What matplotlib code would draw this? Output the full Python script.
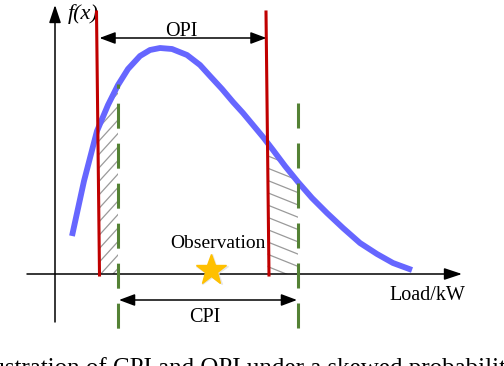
import matplotlib
matplotlib.use("Agg")
import matplotlib.pyplot as plt
import numpy as np

plt.rcParams['font.family'] = ['Liberation Serif', 'DejaVu Serif']
plt.rcParams['lines.scale_dashes'] = False

# skewed density curve (load, density)
curve_x = [17, 29, 42, 53, 63, 73, 85, 95, 105, 117, 132, 145, 155, 167,
           178, 188, 198, 208, 218, 230, 243, 257, 272, 288, 305, 322, 338, 357]
curve_y = [38, 93, 143, 169, 189, 205, 218, 224, 226, 225, 219, 209, 198, 185,
           172, 161, 149, 137, 124, 108, 92, 76, 61, 46, 31, 20, 11, 4]

# interval bounds
opi = [43, 212.5]
cpi = [63, 243]
observation = 156

fig = plt.figure(figsize=(5.04, 3.66), dpi=100)
ax = fig.add_axes([0, 0, 1, 1])
ax.set_xlim(-55, 449)
ax.set_ylim(-92, 274)
ax.axis('off')

# axes with arrows
ax.annotate('', xy=(407, 0), xytext=(-28, 0),
            arrowprops=dict(arrowstyle='-|>,head_length=0.9,head_width=0.3',
                            mutation_scale=12, lw=1.1, color='black',
                            shrinkA=0, shrinkB=0))
ax.annotate('', xy=(0, 269), xytext=(0, -48),
            arrowprops=dict(arrowstyle='-|>,head_length=0.9,head_width=0.3',
                            mutation_scale=12, lw=1.1, color='black',
                            shrinkA=0, shrinkB=0))

cx = np.array(curve_x, dtype=float)
cy = np.array(curve_y, dtype=float)


def hatch_region(x0, x1, slope, step):
    xs = np.linspace(x0, x1, 50)
    top = np.interp(xs, cx, cy)
    poly = ax.fill_between(xs, 0, top, facecolor='none', edgecolor='none')
    lx = np.array([x0 - 5, x1 + 5])
    for c in np.arange(-300, 400, step):
        ln, = ax.plot(lx, slope * (lx - x0) + c, color='#9a9a9a', lw=0.9)
        ln.set_clip_path(poly.get_paths()[0], ax.transData)


hatch_region(opi[0], cpi[0], 1.1, 13.5)
hatch_region(opi[1], cpi[1], -0.4, 12.3)

# skewed curve
ax.plot(cx, cy, color='#6666ff', lw=4.2, solid_capstyle='butt',
        solid_joinstyle='round', zorder=3)

# OPI bounds (red)
ax.plot([opi[0] - 1.5, opi[0] + 1.5], [262, -1], color='#c00000', lw=2.2, zorder=4)
ax.plot([opi[1] - 1.5, opi[1] + 1.5], [262, -1], color='#c00000', lw=2.2, zorder=4)

# CPI bounds (green dashed)
ax.plot([cpi[0], cpi[0]], [190, -56], color='#548235', lw=2.2,
        linestyle=(15, (18, 10.8)), zorder=4)
ax.plot([cpi[1], cpi[1]], [171, -56], color='#548235', lw=2.2,
        linestyle=(0, (18, 10.8)), zorder=4)

# interval arrows
arr = dict(arrowstyle='<|-|>,head_length=0.8,head_width=0.3', mutation_scale=12,
           lw=1.1, color='black', shrinkA=0, shrinkB=0)
ax.annotate('', xy=(opi[0] + 1.5, 236), xytext=(opi[1] - 1, 236), arrowprops=arr)
ax.annotate('', xy=(cpi[0] + 1, -26), xytext=(cpi[1] - 1, -26), arrowprops=arr)

# observation star (with faint shadow)
ax.plot(observation + 1, 3, marker='*', ms=24, color='#e6e6e6', zorder=5)
ax.plot(observation, 4, marker='*', ms=23, color='#ffc000', zorder=5)

ax.text(28, 255, 'f(x)', style='italic', fontsize=16, ha='center', va='baseline')
ax.text(126, 238, 'OPI', fontsize=14.5, ha='center', va='baseline')
ax.text(163, 26, 'Observation', fontsize=14, ha='center', va='baseline')
ax.text(150, -48, 'CPI', fontsize=14.5, ha='center', va='baseline')
ax.text(372, -26, 'Load/kW', fontsize=14.5, ha='center', va='baseline')
ax.text(-85, -100.5, 'Illustration of CPI and OPI under a skewed probability distribution',
        fontsize=18, ha='left', va='baseline', clip_on=False)

fig.savefig('out.png', dpi=100)
